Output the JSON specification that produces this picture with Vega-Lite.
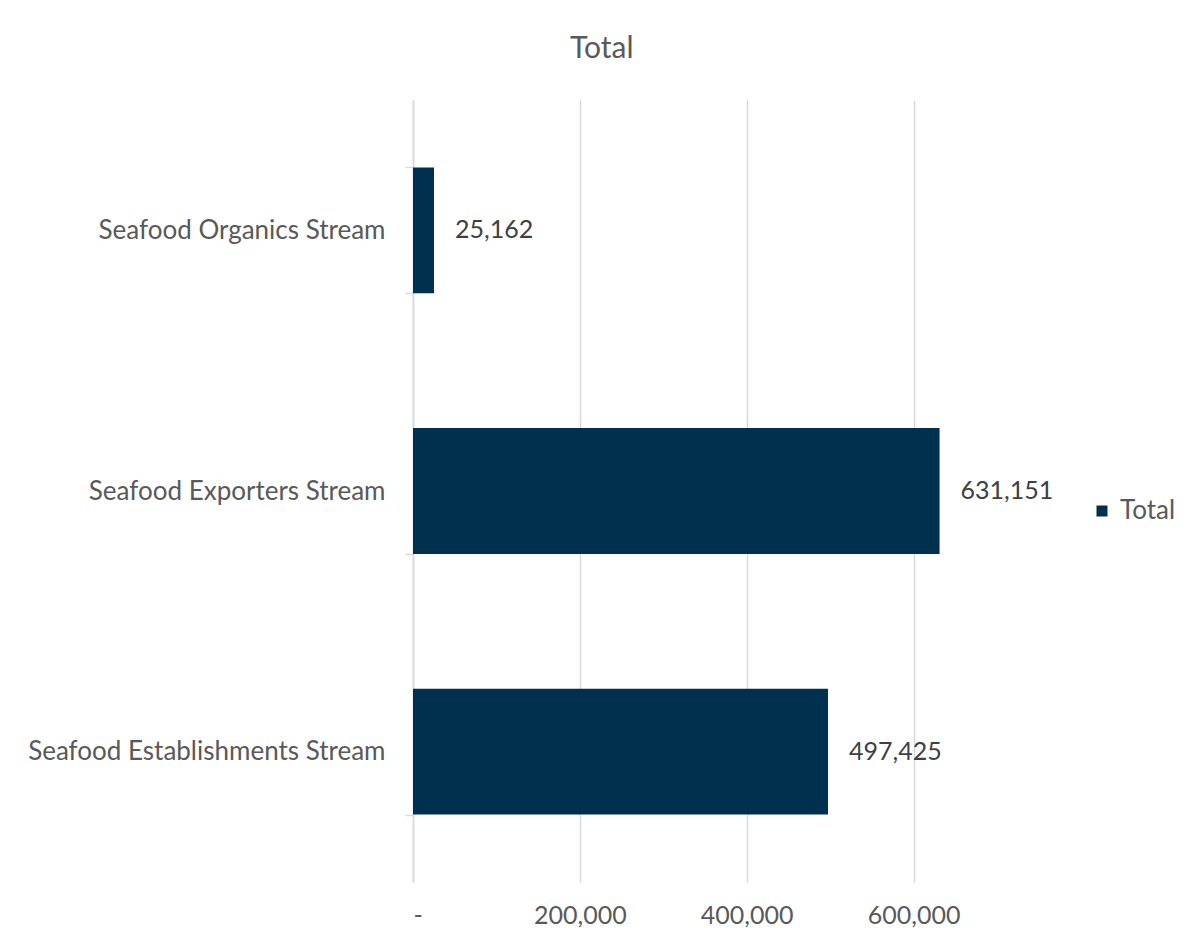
{
  "$schema": "https://vega.github.io/schema/vega-lite/v6.json",
  "autosize": {"type": "none"},
  "padding": {"left": 413, "top": 100, "right": 196, "bottom": 67},
  "width": 584,
  "height": 782,
  "background": "white",
  "title": {
    "text": "Total",
    "frame": "bounds",
    "anchor": "middle",
    "font": "Lato",
    "fontSize": 30,
    "fontWeight": "normal",
    "color": "#595959",
    "offset": 23
  },
  "data": {
    "values": [
      {"category": "Seafood Organics Stream", "value": 25162, "series": "Total"},
      {"category": "Seafood Exporters Stream", "value": 631151, "series": "Total"},
      {"category": "Seafood Establishments Stream", "value": 497425, "series": "Total"}
    ]
  },
  "config": {
    "view": {"stroke": null},
    "font": "Lato"
  },
  "encoding": {
    "y": {
      "field": "category",
      "type": "nominal",
      "sort": ["Seafood Organics Stream", "Seafood Exporters Stream", "Seafood Establishments Stream"],
      "scale": {"paddingInner": 0.517, "paddingOuter": 0.2585},
      "axis": {
        "title": null,
        "domain": true,
        "domainColor": "#d9d9d9",
        "domainWidth": 1.5,
        "ticks": true,
        "tickColor": "#d9d9d9",
        "tickWidth": 1.5,
        "tickSize": 8,
        "tickBand": "extent",
        "labelPadding": 20,
        "labelFont": "Lato",
        "labelFontSize": 26,
        "labelColor": "#595959",
        "labelLimit": 500,
        "grid": false
      }
    },
    "x": {
      "field": "value",
      "type": "quantitative",
      "scale": {"domain": [0, 700000], "nice": false},
      "axis": {
        "title": null,
        "values": [0, 200000, 400000, 600000],
        "labelExpr": "datum.value == 0 ? '-' : format(datum.value, ',')",
        "domain": false,
        "ticks": false,
        "grid": true,
        "gridColor": "#d9d9d9",
        "gridWidth": 1.5,
        "labelPadding": 21,
        "labelFont": "Lato",
        "labelFontSize": 25,
        "labelColor": "#595959"
      }
    }
  },
  "layer": [
    {
      "mark": {"type": "bar"},
      "encoding": {
        "color": {
          "field": "series",
          "type": "nominal",
          "scale": {"range": ["#00304F"]},
          "legend": {
            "title": null,
            "orient": "none",
            "legendX": 676,
            "legendY": 398,
            "symbolType": "square",
            "symbolSize": 121,
            "symbolStrokeWidth": 0,
            "labelFont": "Lato",
            "labelFontSize": 26,
            "labelColor": "#595959",
            "labelOffset": 5
          }
        }
      }
    },
    {
      "mark": {
        "type": "text",
        "align": "left",
        "baseline": "middle",
        "dx": 21,
        "font": "Lato",
        "fontSize": 25,
        "color": "#404040"
      },
      "encoding": {
        "text": {"field": "value", "type": "quantitative", "format": ","}
      }
    }
  ]
}
